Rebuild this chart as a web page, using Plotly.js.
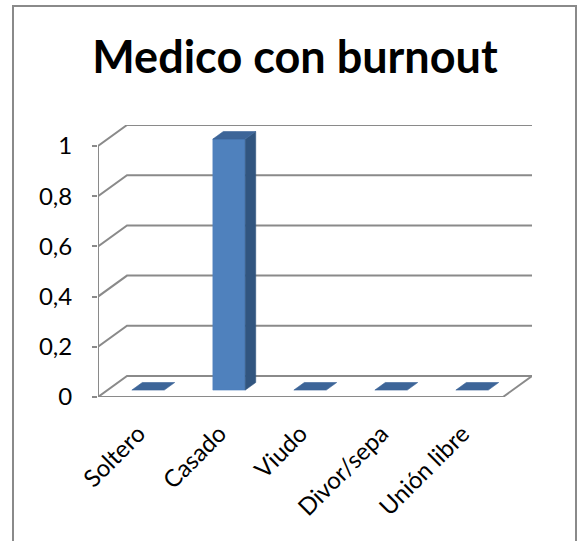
<!DOCTYPE html>
<html>
<head>
<meta charset="utf-8">
<script src="https://cdn.plot.ly/plotly-3.0.1.min.js"></script>
<style>
  html, body { margin: 0; padding: 0; background: #fff; overflow: hidden; }
  #frame { position: absolute; left: 12px; top: 5px; width: 565px; height: 580px;
           border: 2px solid #8a8a8a; box-sizing: border-box; pointer-events: none; }
  #chart { position: absolute; left: 0; top: 0; width: 582px; height: 541px; }
</style>
</head>
<body>
<div id="frame"></div>
<div id="chart"></div>
<script>
// Chart data
const categories = ['Soltero', 'Casado', 'Viudo', 'Divor/sepa', 'Unión libre'];
const values = [0, 1, 0, 0, 0];
const yTickValues = [0, 0.2, 0.4, 0.6, 0.8, 1];
const yTickLabels = ['0', '0,2', '0,4', '0,6', '0,8', '1'];

// Oblique projection of the depth axis, in axis units
const DX = 0.358;      // depth shift along x (category units)
const DY = 0.0837;     // depth shift along y (value units)
const HW = 0.2;        // half width of a bar
const D1 = 0.33, D2 = 0.69;   // bar depth span (fraction of wall depth)
const GRID = '#8a8a8a';
const FRONT = '#4F81BD', TOP = '#3D6598', SIDE = '#31557F';

const xMin = -0.5, xMax = categories.length - 0.5;
const traces = [];

function line(xs, ys, w) {
  traces.push({ type: 'scatter', mode: 'lines', x: xs, y: ys, hoverinfo: 'skip',
                line: { color: GRID, width: w || 2 } });
}
function poly(xs, ys, color) {
  traces.push({ type: 'scatter', mode: 'lines', x: xs.concat([xs[0]]), y: ys.concat([ys[0]]),
                fill: 'toself', fillcolor: color, hoverinfo: 'skip',
                line: { color: color, width: 0.6 } });
}

// Back wall gridlines with their diagonal links to the value axis
yTickValues.forEach(v => {
  if (v === 0) return;
  line([xMin, xMin + DX, xMax + DX], [v, v + DY, v + DY]);
});
// Floor outline
line([xMin, xMax, xMax + DX, xMin + DX, xMin], [0, 0, DY, DY, 0]);
// Value axis line
line([xMin, xMin], [0, yTickValues[yTickValues.length - 1]]);

// Bars: front, side and top faces
values.forEach((v, i) => {
  const xl = i - HW, xr = i + HW;
  const fx = DX * D1, fy = DY * D1, bx = DX * D2, by = DY * D2;
  if (v > 0) {
    poly([xl + fx, xr + fx, xr + fx, xl + fx], [fy, fy, v + fy, v + fy], FRONT);
    poly([xr + fx, xr + bx, xr + bx, xr + fx], [fy, by, v + by, v + fy], SIDE);
  }
  poly([xl + fx, xr + fx, xr + bx, xl + bx], [v + fy, v + fy, v + by, v + by], TOP);
});

const FONT = 'Lato, "Open Sans", sans-serif';

const layout = {
  width: 582, height: 541,
  margin: { l: 98, r: 50, t: 125, b: 144, pad: 0 },
  paper_bgcolor: 'rgba(0,0,0,0)', plot_bgcolor: 'rgba(0,0,0,0)',
  showlegend: false,
  font: { family: FONT, color: '#000' },
  title: {
    text: '<b>Medico con burnout</b>',
    font: { family: FONT, size: 45, color: '#000' },
    x: 295 / 582, xanchor: 'center', xref: 'container',
    y: 1 - 57 / 541, yanchor: 'middle', yref: 'container'
  },
  xaxis: {
    range: [xMin, xMax + DX], showgrid: false, zeroline: false, showline: false,
    tickvals: categories.map((c, i) => i), ticktext: categories,
    tickangle: -45, ticks: '', tickfont: { size: 24, family: FONT, color: '#000' },
    ticklabelstandoff: 17, fixedrange: true
  },
  yaxis: {
    range: [0, 1 + DY], showgrid: false, zeroline: false, showline: false,
    tickvals: yTickValues, ticktext: yTickLabels,
    ticks: 'outside', ticklen: 5, tickwidth: 2, tickcolor: GRID,
    tickfont: { size: 24, family: FONT, color: '#000' },
    ticklabelstandoff: 15, fixedrange: true
  }
};

Plotly.newPlot('chart', traces, layout, { displayModeBar: false, staticPlot: true });
</script>
</body>
</html>
